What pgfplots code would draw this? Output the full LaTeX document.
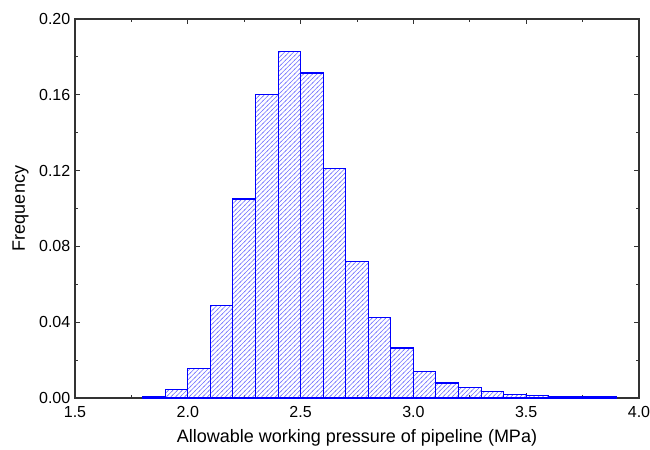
\documentclass[border=0pt]{standalone}
\usepackage{fontspec}
\setmainfont{Liberation Sans}
\usepackage{pgfplots}
\pgfplotsset{compat=1.18}
\usetikzlibrary{patterns.meta}
\tikzdeclarepattern{
  name=bluehatch, type=colored,
  bottom left={(-0.5pt,-0.5pt)}, top right={(3.9pt,3.9pt)},
  tile size={(3.4pt,3.4pt)},
  code={\draw[blue!55, line width=0.4pt] (-0.5pt,-0.5pt) -- (3.9pt,3.9pt);}
}
\begin{document}
\begin{tikzpicture}
% histogram, bin width 0.1 MPa
\begin{axis}[
    name=main,
    scale only axis, width=423pt, height=284.25pt,
    xmin=1.5, xmax=4.0, ymin=0, ymax=0.20,
    xtick={1.5,2.0,...,4.0}, minor xtick={1.75,2.25,...,3.75},
    ytick={0,0.04,...,0.20}, minor ytick={0.02,0.06,...,0.18},
    tick align=inside, major tick length=4pt, minor tick length=2.5pt,
    axis line style={line width=0.8pt, black!80},
    every tick/.style={black!80, line width=0.7pt},
    xticklabel style={yshift=-3pt, /pgf/number format/.cd, fixed, fixed zerofill, precision=1},
    yticklabel style={/pgf/number format/.cd, fixed, fixed zerofill, precision=2},
    /pgf/number format/assume math mode=true,
    scaled y ticks=false,
    tick label style={font=\fontsize{12}{14}\selectfont},
    label style={font=\fontsize{13.5}{15}\selectfont},
    xlabel={Allowable working pressure of pipeline (MPa)},
    ylabel={Frequency},
    xlabel style={yshift=-2pt},
    ylabel style={yshift=1pt},
]
\addplot[ybar interval, draw=blue, line width=0.8pt, pattern=bluehatch]
coordinates {
(1.8,0.0010) (1.9,0.0047) (2.0,0.0155) (2.1,0.0490) (2.2,0.1050)
(2.3,0.1600) (2.4,0.1830) (2.5,0.1715) (2.6,0.1212) (2.7,0.0718)
(2.8,0.0426) (2.9,0.0264) (3.0,0.0142) (3.1,0.0079) (3.2,0.0053)
(3.3,0.0032) (3.4,0.0019) (3.5,0.0014) (3.6,0.0007) (3.7,0.0007)
(3.8,0.0006) (3.9,0.0006)
};
\end{axis}
\pgfresetboundingbox
\path[use as bounding box] ([xshift=-56.25pt, yshift=-39pt]main.south west)
    rectangle ([xshift=8.25pt, yshift=14.25pt]main.north east);
\end{tikzpicture}
\end{document}
